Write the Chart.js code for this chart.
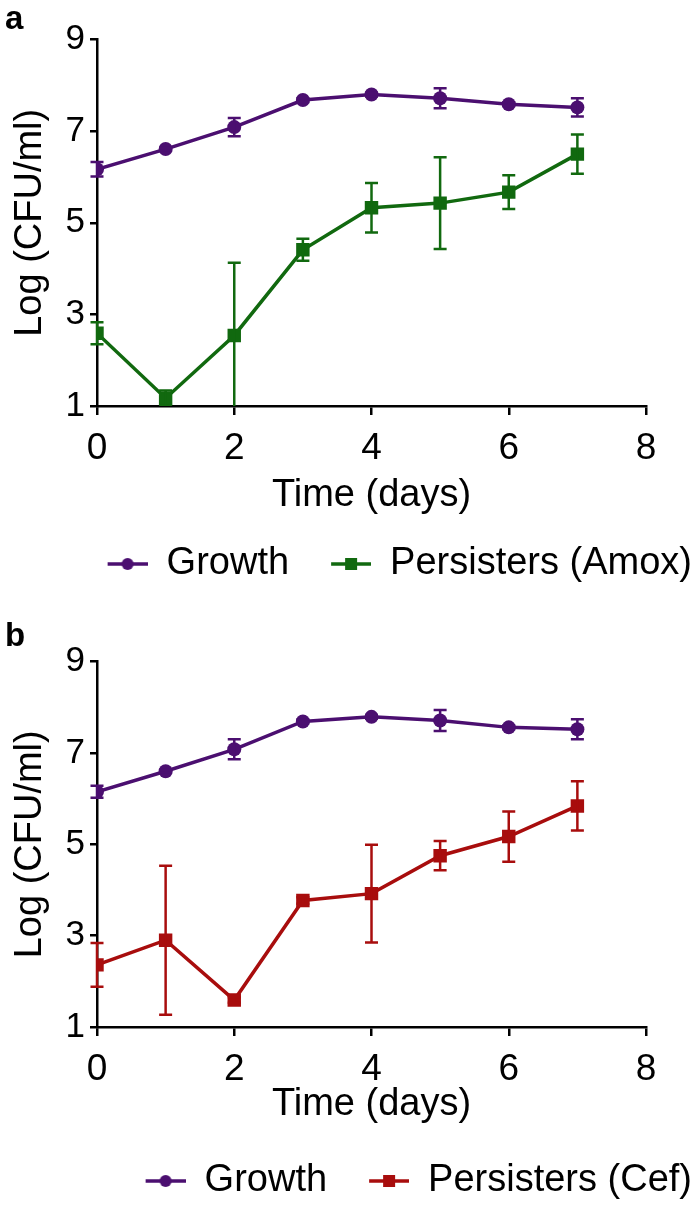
<!DOCTYPE html>
<html>
<head>
<meta charset="utf-8">
<script src="https://cdn.jsdelivr.net/npm/chart.js@4.4.1/dist/chart.umd.min.js"></script>
<style>
  body { margin: 0; background: #fff; }
  #wrap { position: relative; width: 700px; height: 1210px; }
  canvas { position: absolute; left: 0; }
  #chartA { top: 0; }
  #chartB { top: 600px; }
</style>
</head>
<body>
<div id="wrap">
  <canvas id="chartA" width="700" height="600"></canvas>
  <canvas id="chartB" width="700" height="610"></canvas>
</div>
<script>
const days = [0, 1, 2, 3, 4, 5, 6, 7]
const xTicks = [0, 2, 4, 6, 8]
const yTicks = [1, 3, 5, 7, 9]

// panel a
const growthA = [6.17, 6.61, 7.09, 7.68, 7.80, 7.72, 7.59, 7.52]
const growthErrA = [0.16, 0.03, 0.2, 0.04, 0.04, 0.22, 0.04, 0.2]
const amox = [2.59, 1.17, 2.54, 4.41, 5.33, 5.43, 5.67, 6.50]
const amoxErr = [0.24, 0.17, 1.59, 0.24, 0.54, 1.0, 0.37, 0.43]

// panel b
const growthB = [6.15, 6.60, 7.08, 7.69, 7.79, 7.71, 7.56, 7.52]
const growthErrB = [0.13, 0.03, 0.22, 0.04, 0.04, 0.23, 0.04, 0.22]
const cef = [2.36, 2.90, 1.59, 3.77, 3.92, 4.75, 5.17, 5.84]
const cefErr = [0.48, 1.63, 0.06, 0.07, 1.07, 0.32, 0.55, 0.54]

const PURPLE = '#4b0f70'
const GREEN = '#11690f'
const RED = '#a80d0d'

Chart.defaults.font.family = '"Liberation Sans", Arial, sans-serif'
Chart.defaults.color = '#000'

// line + marker icon for the legend (blank space on the left gives the gap between items)
function legendIcon(color, shape) {
  let c = document.createElement('canvas')
  c.width = 74
  c.height = 16
  let g = c.getContext('2d')
  g.strokeStyle = color
  g.fillStyle = color
  g.lineWidth = 3.5
  g.beginPath()
  g.moveTo(34, 8)
  g.lineTo(74, 8)
  g.stroke()
  if (shape === 'circle') {
    g.beginPath()
    g.arc(54, 8, 6, 0, 2 * Math.PI)
    g.fill()
  } else {
    g.fillRect(48, 2, 12, 12)
  }
  return c
}

// vertical error bars with caps
const errorBars = {
  id: 'errorBars',
  afterDatasetDraw(chart, args) {
    let ds = chart.data.datasets[args.index]
    if (!ds.errors) return
    let ctx = chart.ctx
    let y = chart.scales.y
    let area = chart.chartArea
    ctx.save()
    ctx.beginPath()
    ctx.rect(area.left - 20, area.top - 20, area.right - area.left + 40, area.bottom - area.top + 20)
    ctx.clip()
    ctx.strokeStyle = ds.borderColor
    ctx.lineWidth = 2.5
    args.meta.data.forEach((pt, i) => {
      let v = ds.data[i].y
      let e = ds.errors[i]
      let top = y.getPixelForValue(v + e)
      let bot = y.getPixelForValue(v - e)
      ctx.beginPath()
      ctx.moveTo(pt.x, top)
      ctx.lineTo(pt.x, bot)
      ctx.moveTo(pt.x - 6.5, top)
      ctx.lineTo(pt.x + 6.5, top)
      ctx.moveTo(pt.x - 6.5, bot)
      ctx.lineTo(pt.x + 6.5, bot)
      ctx.stroke()
    })
    ctx.restore()
  }
}

function makePanel(id, letter, series, lay) {
  return new Chart(document.getElementById(id), {
    type: 'line',
    data: {
      datasets: series.map(s => ({
        label: s.label,
        data: days.map((d, i) => ({ x: d, y: s.values[i] })),
        errors: s.errors,
        icon: legendIcon(s.color, s.shape),
        borderColor: s.color,
        backgroundColor: s.color,
        pointBackgroundColor: s.color,
        pointBorderColor: s.color,
        pointStyle: s.shape === 'circle' ? 'circle' : 'rect',
        pointRadius: s.shape === 'circle' ? 7 : 9.5,
        pointBorderWidth: 0,
        borderWidth: 3.5,
        tension: 0,
        fill: false
      }))
    },
    options: {
      responsive: false,
      animation: false,
      events: [],
      layout: { padding: { left: 5, right: 0, top: 0, bottom: lay.padBottom } },
      plugins: {
        title: {
          display: true, text: letter, align: 'start', color: '#000',
          font: { size: 33, weight: 'bold' },
          padding: { top: lay.titleTop, bottom: lay.titleBottom }
        },
        legend: {
          position: 'bottom', align: 'end',
          labels: {
            usePointStyle: true, pointStyleWidth: 74, padding: 8, color: '#000',
            font: { size: 38 },
            generateLabels: chart => chart.data.datasets.map((d, i) => ({
              text: d.label, pointStyle: d.icon, fillStyle: d.borderColor,
              strokeStyle: d.borderColor, lineWidth: 0, datasetIndex: i,
              hidden: false, fontColor: '#000'
            }))
          }
        },
        tooltip: { enabled: false }
      },
      scales: {
        x: {
          type: 'linear', min: 0, max: 8,
          afterBuildTicks: s => { s.ticks = xTicks.map(v => ({ value: v })) },
          afterFit: s => { s.height = lay.xHeight; s.paddingRight = 54 },
          grid: { drawOnChartArea: false, tickLength: 9, color: '#000', lineWidth: 2.5 },
          border: { color: '#000', width: 2.5 },
          ticks: { padding: 12, color: '#000', font: { size: 37 } },
          title: {
            display: true, text: 'Time (days)', color: '#000', font: { size: 38 },
            padding: { top: 0, bottom: lay.xTitlePad }
          }
        },
        y: {
          min: 1, max: 9,
          afterBuildTicks: s => { s.ticks = yTicks.map(v => ({ value: v })) },
          afterFit: s => { s.width = 92 },
          grid: { drawOnChartArea: false, tickLength: 7, color: '#000', lineWidth: 2.5 },
          border: { color: '#000', width: 2.5 },
          ticks: { padding: 5, color: '#000', font: { size: 35 } },
          title: {
            display: true, text: 'Log (CFU/ml)', color: '#000', font: { size: 38 },
            padding: { top: 3, bottom: 0 }
          }
        }
      }
    },
    plugins: [errorBars]
  })
}

makePanel('chartA', 'a', [
  { label: 'Growth', values: growthA, errors: growthErrA, color: PURPLE, shape: 'circle' },
  { label: 'Persisters (Amox)', values: amox, errors: amoxErr, color: GREEN, shape: 'rect' }
], { padBottom: 7, titleTop: 0, titleBottom: 0, xHeight: 131, xTitlePad: 19 })

makePanel('chartB', 'b', [
  { label: 'Growth', values: growthB, errors: growthErrB, color: PURPLE, shape: 'circle' },
  { label: 'Persisters (Cef)', values: cef, errors: cefErr, color: RED, shape: 'rect' }
], { padBottom: 0, titleTop: 17, titleBottom: 5, xHeight: 127, xTitlePad: 27 })
</script>
</body>
</html>
